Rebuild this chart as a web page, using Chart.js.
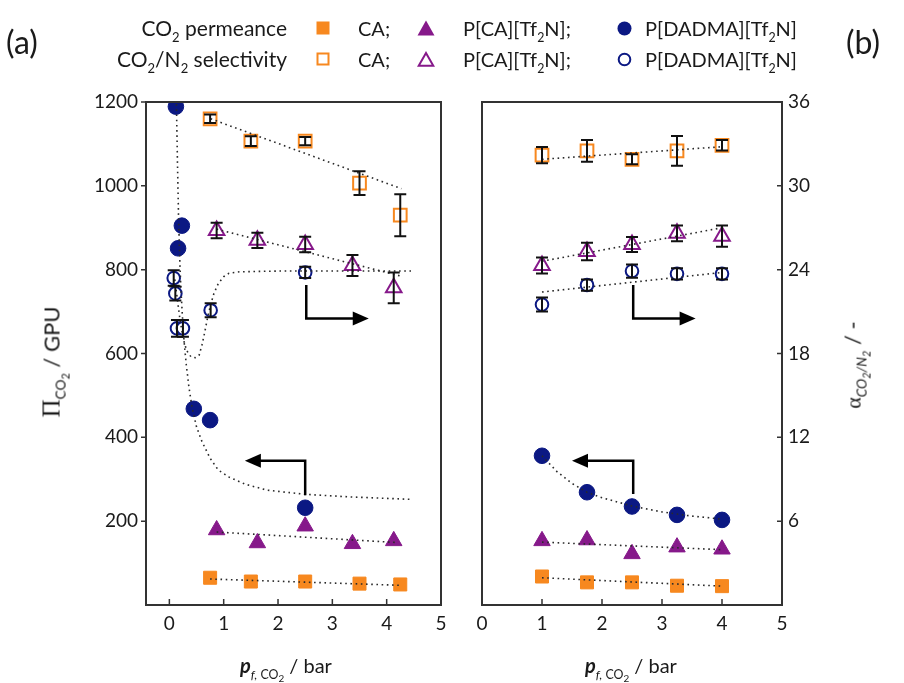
<!DOCTYPE html>
<html lang="en">
<head>
<meta charset="UTF-8">
<title>CO2 permeance and CO2/N2 selectivity</title>
<script src="https://cdn.jsdelivr.net/npm/chart.js"></script>
<style>
  body { margin: 0; background: #fff; }
  #wrap { position: relative; width: 904px; height: 683px; overflow: hidden; font-family: Lato, "Open Sans", sans-serif; color: #1a1a1a; }
  canvas { position: absolute; top: 0; }
  #chartA { left: 0; }
  #chartB { left: 460px; }
  .t { position: absolute; white-space: nowrap; line-height: 1; font-size: 20px; }
  .t sub { font-size: 0.62em; vertical-align: -0.45em; line-height: 0; }
  .t sub sub { font-size: 0.8em; vertical-align: -0.35em; }
  .lg { font-size: 21px; }
  .panel { font-size: 32px; }
  .rot { transform: translate(-50%, -50%) rotate(-90deg); }
  .serif { font-family: "Liberation Serif", "DejaVu Serif", serif; }
  .mk { position: absolute; }
</style>
</head>
<body>
<div id="wrap">
  <canvas id="chartA" width="460" height="683"></canvas>
  <canvas id="chartB" width="444" height="683"></canvas>

  <div class="t panel" style="left:6px; top:26px;">(a)</div>
  <div class="t panel" style="left:846px; top:26px;">(b)</div>

  <!-- legend -->
  <div class="t lg" style="right:617px; top:17px;">CO<sub>2</sub> permeance</div>
  <div class="t lg" style="right:617px; top:48px;">CO<sub>2</sub>/N<sub>2</sub> selectivity</div>
  <svg class="mk" style="left:316px; top:21px;" width="14" height="14"><rect x="0.5" y="0.5" width="13" height="13" fill="#f7881f"/></svg>
  <svg class="mk" style="left:316px; top:52px;" width="14" height="14"><rect x="1.5" y="1.5" width="11" height="11" fill="#fff" stroke="#f7881f" stroke-width="2"/></svg>
  <div class="t" style="left:358px; top:18px;">CA;</div>
  <div class="t" style="left:358px; top:49px;">CA;</div>
  <svg class="mk" style="left:417px; top:20px;" width="18" height="16"><polygon points="9,0.5 17.5,15.5 0.5,15.5" fill="#86198a"/></svg>
  <svg class="mk" style="left:417px; top:51px;" width="18" height="16"><polygon points="9,2 16.3,14.8 1.7,14.8" fill="#fff" stroke="#86198a" stroke-width="2"/></svg>
  <div class="t" style="left:463px; top:18px;">P[CA][Tf<sub>2</sub>N];</div>
  <div class="t" style="left:463px; top:49px;">P[CA][Tf<sub>2</sub>N];</div>
  <svg class="mk" style="left:617px; top:21px;" width="15" height="15"><circle cx="7.5" cy="7.5" r="7" fill="#0b1883"/></svg>
  <svg class="mk" style="left:617px; top:52px;" width="15" height="15"><circle cx="7.5" cy="7.5" r="5.8" fill="#fff" stroke="#0b1883" stroke-width="2"/></svg>
  <div class="t" style="left:645px; top:18px;">P[DADMA][Tf<sub>2</sub>N]</div>
  <div class="t" style="left:645px; top:49px;">P[DADMA][Tf<sub>2</sub>N]</div>

  <!-- axis titles -->
  <div class="t rot" style="left:52px; top:362px; font-size:22px;"><span class="serif" style="font-size:25px;">&Pi;</span><sub>CO<sub>2</sub></sub> / GPU</div>
  <div class="t rot" style="left:854px; top:365px; font-size:22px;"><span class="serif">&alpha;</span><sub><i>CO<sub>2</sub>/N<sub>2</sub></i></sub> / -</div>
  <div class="t" style="left:240px; top:655px;"><i style="font-weight:bold;">p</i><sub><i>f,</i> CO<sub>2</sub></sub> / bar</div>
  <div class="t" style="left:585px; top:655px;"><i style="font-weight:bold;">p</i><sub><i>f,</i> CO<sub>2</sub></sub> / bar</div>
</div>

<script>
// ---- values ----
const xTicks = [0, 1, 2, 3, 4, 5];
const permTicks = [200, 400, 600, 800, 1000, 1200];
const selTicks = [6, 12, 18, 24, 30, 36];

// panel (a) - feed pressure series
const aCaX = [0.75, 1.5, 2.5, 3.5, 4.25];
const aCaPerm = [65, 56, 56, 51, 49];
const aCaSel = [34.8, 33.2, 33.2, 30.2, 27.9];
const aCaSelErr = [0.3, 0.35, 0.3, 0.85, 1.5];

const aPcaX = [0.87, 1.62, 2.5, 3.37, 4.13];
const aPcaPerm = [179, 148, 188, 146, 153];
const aPcaSel = [26.8, 26.1, 25.8, 24.3, 22.7];
const aPcaSelErr = [0.55, 0.55, 0.55, 0.75, 1.1];

const aDadmaPermX = [0.12, 0.16, 0.23, 0.45, 0.75, 2.5];
const aDadmaPerm = [1189, 851, 905, 468, 441, 232];
const aDadmaSelX = [0.08, 0.11, 0.14, 0.25, 0.76, 2.5];
const aDadmaSel = [23.4, 22.3, 19.8, 19.8, 21.1, 23.8];
const aDadmaSelErr = [0.55, 0.5, 0.6, 0.6, 0.5, 0.4];

// panel (a) - dotted fit lines
const aCaPermFitX = [0.75, 4.25];
const aCaPermFit = [62, 47];
const aPcaPermFitX = [0.87, 4.2];
const aPcaPermFit = [174, 149];
const aDadmaPermFitX = [0.13, 0.15, 0.17, 0.19, 0.21, 0.24, 0.27, 0.31, 0.36, 0.42, 0.5, 0.6, 0.75, 0.9, 1.1, 1.4, 1.8, 2.5, 3.3, 4.45];
const aDadmaPermFit = [1195, 1050, 920, 830, 760, 690, 630, 575, 520, 470, 425, 390, 350, 322, 305, 288, 274, 264, 258, 252];
const aCaSelFitX = [0.76, 4.27];
const aCaSelFit = [34.8, 29.8];
const aPcaSelFitX = [0.87, 4.3];
const aPcaSelFit = [26.9, 23.5];
const aDadmaSelFitX = [0.1, 0.15, 0.2, 0.26, 0.32, 0.4, 0.48, 0.55, 0.6, 0.65, 0.7, 0.76, 0.82, 0.9, 1.0, 1.1, 1.3, 2.0, 3.0, 4.5];
const aDadmaSelFit = [23.3, 21.8, 20.3, 19.0, 18.2, 17.75, 17.7, 17.9, 18.6, 19.5, 20.5, 21.5, 22.3, 23.0, 23.5, 23.75, 23.85, 23.9, 23.9, 23.9];

// panel (b) - second series
const bX = [1, 1.75, 2.5, 3.25, 4];
const bCaPerm = [68, 54, 54, 46, 45];
const bPcaPerm = [153, 155, 122, 138, 133];
const bDadmaPerm = [356, 269, 235, 215, 203];
const bCaSel = [32.2, 32.5, 31.9, 32.5, 32.9];
const bCaSelErr = [0.58, 0.78, 0.36, 1.07, 0.38];
const bPcaSel = [24.3, 25.3, 25.8, 26.6, 26.4];
const bPcaSelErr = [0.57, 0.63, 0.54, 0.56, 0.76];
const bDadmaSel = [21.5, 22.9, 23.9, 23.7, 23.7];
const bDadmaSelErr = [0.5, 0.4, 0.47, 0.4, 0.4];

// panel (b) - dotted fit lines
const bLineX = [1, 4];
const bCaPermFit = [65, 45];
const bPcaPermFit = [150, 132];
const bDadmaPermFitX = [1, 1.25, 1.5, 1.75, 2, 2.5, 3, 3.5, 4];
const bDadmaPermFit = [356, 318, 290, 269, 256, 236, 222, 212, 205];
const bCaSelFit = [31.9, 32.8];
const bPcaSelFit = [24.6, 27.0];
const bDadmaSelFit = [22.4, 23.8];

// ---- styling ----
const ORANGE = '#f7881f', PURPLE = '#86198a', NAVY = '#0b1883', INK = '#2a2a2a';
Chart.defaults.font.family = 'Lato, "Open Sans", sans-serif';
Chart.defaults.font.size = 19;
Chart.defaults.color = '#1a1a1a';

const pts = (xs, ys) => xs.map((x, i) => ({ x: x, y: ys[i] }));

function fit(xs, ys, axis) {
  return { data: pts(xs, ys), yAxisID: axis, showLine: true, borderColor: INK, borderWidth: 1.6,
    borderDash: [1.6, 3.6], pointRadius: 0, order: 0 };
}
function filled(xs, ys, shape, color, r) {
  return { data: pts(xs, ys), yAxisID: 'y', pointStyle: shape, pointRadius: r, showLine: false,
    pointBackgroundColor: color, pointBorderColor: color, pointBorderWidth: 1, order: 1 };
}
function hollow(xs, ys, err, shape, color, r) {
  return { data: pts(xs, ys), err: err, yAxisID: 'y1', pointStyle: shape, pointRadius: r, showLine: false,
    pointBackgroundColor: '#fff', pointBorderColor: color, pointBorderWidth: 2, order: 1 };
}

// box, inside/outside tick marks, error bars and the arrows
const frame = {
  id: 'frame',
  afterDatasetsDraw(chart, args, opts) {
    const ctx = chart.ctx;
    ctx.save();
    ctx.strokeStyle = '#111';
    ctx.lineWidth = 2;
    chart.data.datasets.forEach((ds, i) => {
      if (!ds.err) return;
      const ys = chart.scales[ds.yAxisID];
      chart.getDatasetMeta(i).data.forEach((p, j) => {
        const v = ds.data[j].y, e = ds.err[j];
        const t = ys.getPixelForValue(v + e), b = ys.getPixelForValue(v - e);
        ctx.beginPath();
        ctx.moveTo(p.x, t); ctx.lineTo(p.x, b);
        ctx.moveTo(p.x - 6, t); ctx.lineTo(p.x + 6, t);
        ctx.moveTo(p.x - 6, b); ctx.lineTo(p.x + 6, b);
        ctx.stroke();
      });
    });
    const xs = chart.scales.x;
    (opts.arrows || []).forEach(ar => {
      const ys = chart.scales[ar.axis];
      const px = ar.x.map(v => xs.getPixelForValue(v));
      const py = ar.y.map(v => ys.getPixelForValue(v));
      const n = px.length - 1;
      const dir = Math.sign(px[n] - px[n - 1]);
      ctx.lineWidth = 2.5;
      ctx.strokeStyle = '#000';
      ctx.beginPath();
      ctx.moveTo(px[0], py[0]);
      for (let k = 1; k < n; k++) ctx.lineTo(px[k], py[k]);
      ctx.lineTo(px[n] - dir * 12, py[n]);
      ctx.stroke();
      ctx.fillStyle = '#000';
      ctx.beginPath();
      ctx.moveTo(px[n], py[n]);
      ctx.lineTo(px[n] - dir * 16, py[n] - 7);
      ctx.lineTo(px[n] - dir * 16, py[n] + 7);
      ctx.closePath();
      ctx.fill();
    });
    ctx.restore();
  },
  afterDraw(chart, args, opts) {
    const ctx = chart.ctx, a = chart.chartArea;
    ctx.save();
    ctx.strokeStyle = '#333';
    ctx.lineWidth = 2;
    ctx.strokeRect(a.left, a.top, a.right - a.left, a.bottom - a.top);
    ctx.lineWidth = 1.5;
    ctx.beginPath();
    chart.scales.x.ticks.forEach(t => {
      const x = chart.scales.x.getPixelForValue(t.value);
      ctx.moveTo(x, a.bottom); ctx.lineTo(x, a.bottom - 6);
    });
    const ys = chart.scales[opts.yAxis];
    ys.ticks.forEach(t => {
      const y = ys.getPixelForValue(t.value);
      if (opts.yAxis === 'y') { ctx.moveTo(a.left - 5, y); ctx.lineTo(a.left, y); }
      else { ctx.moveTo(a.right - 5, y); ctx.lineTo(a.right, y); }
    });
    ctx.stroke();
    ctx.restore();
  }
};

const setTicks = vals => s => { s.ticks = vals.map(v => ({ value: v })); };
const noGrid = { display: false, drawTicks: false };
const plain = v => String(v);

function xScale(min) {
  return { type: 'linear', min: min, max: 5, afterBuildTicks: setTicks(xTicks),
    afterFit: s => { s.height = 78; }, grid: noGrid, border: { display: false },
    ticks: { padding: 7, callback: plain } };
}

const common = {
  responsive: false,
  animation: false,
  events: [],
  plugins: { legend: { display: false }, tooltip: { enabled: false } }
};

new Chart(document.getElementById('chartA'), {
  type: 'scatter',
  data: {
    datasets: [
      fit(aCaPermFitX, aCaPermFit, 'y'),
      fit(aPcaPermFitX, aPcaPermFit, 'y'),
      fit(aDadmaPermFitX, aDadmaPermFit, 'y'),
      fit(aCaSelFitX, aCaSelFit, 'y1'),
      fit(aPcaSelFitX, aPcaSelFit, 'y1'),
      fit(aDadmaSelFitX, aDadmaSelFit, 'y1'),
      filled(aCaX, aCaPerm, 'rect', ORANGE, 9.2),
      filled(aPcaX, aPcaPerm, 'triangle', PURPLE, 9.5),
      filled(aDadmaPermX, aDadmaPerm, 'circle', NAVY, 7.8),
      hollow(aCaX, aCaSel, aCaSelErr, 'rect', ORANGE, 9),
      hollow(aPcaX, aPcaSel, aPcaSelErr, 'triangle', PURPLE, 9),
      hollow(aDadmaSelX, aDadmaSel, aDadmaSelErr, 'circle', NAVY, 6.3)
    ]
  },
  options: Object.assign({}, common, {
    layout: { padding: { top: 102, right: 19, left: 0, bottom: 0 } },
    scales: {
      x: xScale(-0.43),
      y: { type: 'linear', position: 'left', min: 0, max: 1200, afterBuildTicks: setTicks(permTicks),
        afterFit: s => { s.width = 146; }, grid: noGrid, border: { display: false },
        ticks: { padding: 8, callback: plain } },
      y1: { type: 'linear', position: 'right', min: 0, max: 36, display: false }
    },
    plugins: Object.assign({}, common.plugins, {
      frame: {
        yAxis: 'y',
        arrows: [
          { axis: 'y1', x: [2.52, 2.52, 3.67], y: [22.9, 20.5, 20.5] },
          { axis: 'y', x: [2.5, 2.5, 1.39], y: [262, 344, 344] }
        ]
      }
    })
  }),
  plugins: [frame]
});

new Chart(document.getElementById('chartB'), {
  type: 'scatter',
  data: {
    datasets: [
      fit(bLineX, bCaPermFit, 'y'),
      fit(bLineX, bPcaPermFit, 'y'),
      fit(bDadmaPermFitX, bDadmaPermFit, 'y'),
      fit(bLineX, bCaSelFit, 'y1'),
      fit(bLineX, bPcaSelFit, 'y1'),
      fit(bLineX, bDadmaSelFit, 'y1'),
      filled(bX, bCaPerm, 'rect', ORANGE, 9.2),
      filled(bX, bPcaPerm, 'triangle', PURPLE, 9.5),
      filled(bX, bDadmaPerm, 'circle', NAVY, 7.8),
      hollow(bX, bCaSel, bCaSelErr, 'rect', ORANGE, 9),
      hollow(bX, bPcaSel, bPcaSelErr, 'triangle', PURPLE, 9),
      hollow(bX, bDadmaSel, bDadmaSelErr, 'circle', NAVY, 6.3)
    ]
  },
  options: Object.assign({}, common, {
    layout: { padding: { top: 102, right: 0, left: 22, bottom: 0 } },
    scales: {
      x: xScale(0),
      y: { type: 'linear', position: 'left', min: 0, max: 1200, display: false },
      y1: { type: 'linear', position: 'right', min: 0, max: 36, afterBuildTicks: setTicks(selTicks),
        afterFit: s => { s.width = 122; }, grid: noGrid, border: { display: false },
        ticks: { padding: 6, callback: plain } }
    },
    plugins: Object.assign({}, common.plugins, {
      frame: {
        yAxis: 'y1',
        arrows: [
          { axis: 'y1', x: [2.52, 2.52, 3.56], y: [22.9, 20.5, 20.5] },
          { axis: 'y', x: [2.52, 2.52, 1.5], y: [265, 344, 344] }
        ]
      }
    })
  }),
  plugins: [frame]
});
</script>
</body>
</html>
